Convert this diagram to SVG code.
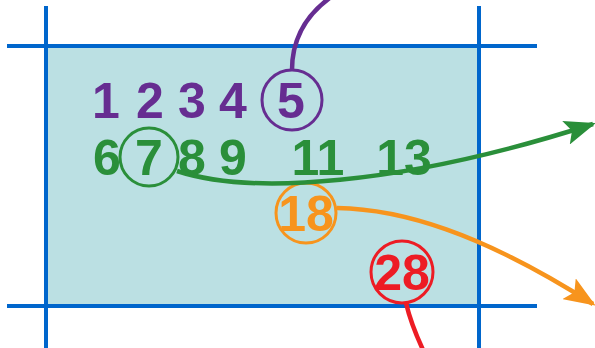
<svg xmlns="http://www.w3.org/2000/svg" width="595" height="348" viewBox="0 0 595 348">
<style>
.t{font-family:"Liberation Sans",Arial,sans-serif;font-weight:bold;font-size:50px;text-anchor:middle}
.p{fill:#662d91}.g{fill:#2a8f3a}.o{fill:#f7941d}.r{fill:#ed1c24}
.grid{stroke:#0066cc;stroke-width:4;fill:none}
.ring{fill:none;stroke-width:3}
.conn{fill:none;stroke-width:4.5}
</style>
<defs>
<marker id="ag" viewBox="0 0 10 10" refX="9" refY="5" markerWidth="7" markerHeight="5.5" markerUnits="strokeWidth" orient="auto" preserveAspectRatio="none"><path d="M0,0L10,5L0,10L2,5z" fill="#2a8f3a"/></marker>
<marker id="ao" viewBox="0 0 10 10" refX="9" refY="5" markerWidth="7" markerHeight="5.5" markerUnits="strokeWidth" orient="auto" preserveAspectRatio="none"><path d="M0,0L10,5L0,10L2,5z" fill="#f7941d"/></marker>
</defs>
<rect x="46" y="46" width="433" height="260" fill="#bbe0e3"/>
<g id="grid">
<path class="grid" d="M7,46H537M7,306H537M46,6V348M479,6V348"/>
</g>
<g id="row1">
<text class="t p" x="106" y="118">1</text>
<text class="t p" x="150" y="118">2</text>
<text class="t p" x="192" y="118">3</text>
<text class="t p" x="233" y="118">4</text>
</g>
<g id="n5">
<circle class="ring" cx="292" cy="100" r="30" stroke="#662d91"/>
<text class="t p" x="291" y="118">5</text>
</g>
<g id="row2">
<text class="t g" x="107" y="175">6</text>
<text class="t g" x="192" y="175">8</text>
<text class="t g" x="233" y="175">9</text>
<text class="t g" x="318" y="175">11</text>
<text class="t g" x="404" y="175">13</text>
</g>
<g id="n7">
<circle class="ring" cx="149" cy="157" r="29" stroke="#2a8f3a"/>
<text class="t g" x="149" y="175">7</text>
</g>
<g id="n18">
<circle class="ring" cx="306" cy="213" r="30" stroke="#f7941d"/>
<text class="t o" x="306" y="231">18</text>
</g>
<g id="n28">
<circle class="ring" cx="402" cy="272" r="31" stroke="#ed1c24"/>
<text class="t r" x="402" y="290">28</text>
</g>
<g id="connectors">
<path class="conn" stroke="#662d91" d="M292,70C292,40 306,15 331,-3"/>
<path class="conn" stroke="#2a8f3a" d="M177,171C250,195 400,186 593,124" marker-end="url(#ag)"/>
<path class="conn" stroke="#f7941d" d="M337,208C400,209 480,232 593,304" marker-end="url(#ao)"/>
<path class="conn" stroke="#ed1c24" d="M406,303C410,320 416,335 424,352"/>
</g>
</svg>
